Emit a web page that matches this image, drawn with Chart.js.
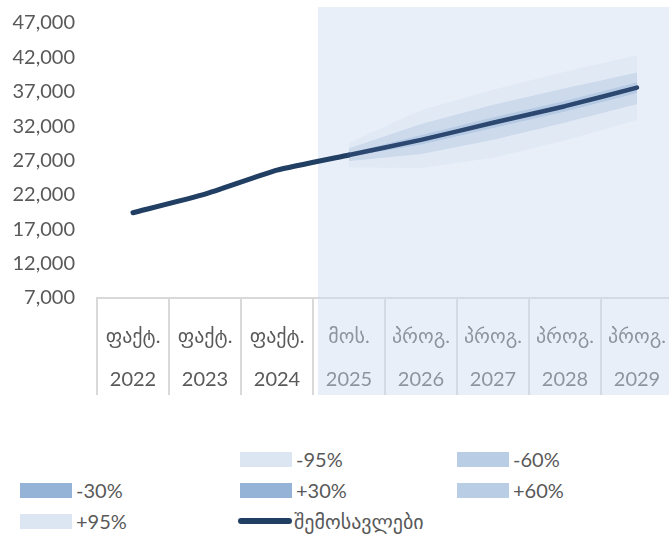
<!DOCTYPE html>
<html><head><meta charset="utf-8">
<script src="https://cdn.jsdelivr.net/npm/chart.js@4"></script>
<style>
html,body{margin:0;padding:0;background:#fff;overflow:hidden;width:669px;height:537px;position:relative;}
#wrap{position:absolute;left:0;top:0;width:673px;height:410px;}
.lg{position:absolute;display:flex;align-items:center;font:20px Lato,'DejaVu Sans',sans-serif;color:#595959;white-space:nowrap;height:20px;}
.sw{width:52px;height:15px;margin-right:4px;flex:none;}
.ln{width:54px;height:6px;border-radius:3px;margin-right:2px;flex:none;}
</style></head><body>
<div id="wrap"><canvas id="c" width="673" height="410"></canvas></div>
<div id="legend"></div>
<script>
// ---- data ----
const years   = ['2022','2023','2024','2025','2026','2027','2028','2029'];
const periods = ['ფაქტ.','ფაქტ.','ფაქტ.','მოს.','პროგ.','პროგ.','პროგ.','პროგ.'];
const revenue = [19400, 22100, 25600, 27800, 30000, 32500, 34900, 37600];
const lower95 = [null, null, null, 26000, 25900, 27400, 29900, 32900];
const lower60 = [null, null, null, 26900, 27900, 30000, 32500, 35200];
const lower30 = [null, null, null, 27500, 29300, 31700, 34100, 36800];
const upper30 = [null, null, null, 28100, 30700, 33300, 35700, 38400];
const upper60 = [null, null, null, 28800, 32300, 35100, 37500, 39800];
const upper95 = [null, null, null, 29600, 34300, 37300, 39900, 42300];
const bandLabels = ['-95%','-60%','-30%','+30%','+60%','+95%'];
const bandColors = ['#dce6f2','#b9cde5','#95b3d7','#95b3d7','#b9cde5','#dce6f2'];
const lineLabel = 'შემოსავლები';
const lineColor = '#213e63';
const yMin = 7000, yMax = 47000, yStep = 5000;

const FONT = "Lato, 'DejaVu Sans', sans-serif";
const revForecast = revenue.map((v,i)=> lower95[i]==null ? null : v);
const bandTops = [lower60, lower30, revForecast, upper30, upper60, upper95];

function withAlpha(hex, a){
  const n = parseInt(hex.slice(1),16);
  return `rgba(${(n>>16)&255},${(n>>8)&255},${n&255},${a})`;
}

const datasets = [{
  label: 'base', data: lower95, fill: false, borderWidth: 0,
  pointRadius: 0, backgroundColor: 'rgba(0,0,0,0)', borderColor: 'rgba(0,0,0,0)', order: 2
}];
bandLabels.forEach((lab, i) => {
  datasets.push({
    label: lab, data: bandTops[i], fill: '-1', borderWidth: 0, pointRadius: 0,
    backgroundColor: withAlpha(bandColors[i], 0.6), borderColor: 'rgba(0,0,0,0)',
    tension: 0, order: 2
  });
});
datasets.push({
  label: lineLabel, data: revenue, fill: false, borderColor: lineColor, borderWidth: 5,
  borderCapStyle: 'round', borderJoinStyle: 'round', pointRadius: 0, tension: 0.15, order: 1,
  segment: { borderColor: c => c.p0DataIndex >= 3 ? '#2c4870' : lineColor,
             borderWidth: c => c.p0DataIndex >= 3 ? 4.5 : 5 }
});

const shade = {
  id: 'shade',
  beforeDatasetsDraw(chart){
    const x = chart.scales.x, ctx = chart.ctx;
    const left = (x.getPixelForValue(2) + x.getPixelForValue(3)) / 2 + 5;
    ctx.save();
    ctx.fillStyle = 'rgba(205,219,242,0.45)';
    ctx.fillRect(left, 7, chart.width - left, 395 - 7);
    ctx.restore();
  }
};

new Chart(document.getElementById('c'), {
  type: 'line',
  data: { labels: years.map((y,i)=>[periods[i], y]), datasets },
  options: {
    responsive: false, animation: false, devicePixelRatio: 1,
    layout: { padding: { top: 23, right: 0, bottom: 0, left: 0 } },
    plugins: { legend: { display: false }, tooltip: { enabled: false } },
    scales: {
      x: {
        offset: true,
        grid: { offset: true, drawOnChartArea: false, drawTicks: true, tickLength: 97, color: '#d9d9d9', lineWidth: 2 },
        border: { display: true, color: '#d9d9d9', width: 2 },
        ticks: { color: '#595959', font: { family: FONT, size: 20, lineHeight: 2.15 }, padding: -80, maxRotation: 0, autoSkip: false },
        afterFit(s){ s.height = 112; s.paddingTop = 0; s.paddingBottom = 0; }
      },
      y: {
        min: yMin, max: yMax,
        grid: { display: false, drawTicks: false },
        border: { display: false },
        ticks: { stepSize: yStep, color: '#595959', font: { family: FONT, size: 20 }, padding: 22,
          callback: v => v.toLocaleString('en-US') },
        afterFit(s){ s.width = 97; s.paddingTop = 0; s.paddingBottom = 0; }
      }
    }
  },
  plugins: [shade]
});

// ---- legend (HTML) ----
const colX = [20, 240, 457], rowY = [449, 480, 511];
const leg = document.getElementById('legend');
const items = bandLabels.map((l,i)=>({label:l, color:bandColors[i], line:false}));
items.push({label: lineLabel, color: lineColor, line: true});
items.forEach((it, k) => {
  const slot = k + 1;
  const d = document.createElement('div');
  d.className = 'lg';
  d.style.left = (colX[slot % 3] - (it.line ? 2 : 0)) + 'px';
  d.style.top = rowY[Math.floor(slot / 3)] + 'px';
  const s = document.createElement('span');
  s.className = it.line ? 'ln' : 'sw';
  s.style.background = it.color;
  const t = document.createElement('span');
  t.textContent = it.label;
  d.appendChild(s); d.appendChild(t);
  leg.appendChild(d);
});
</script>
</body></html>
